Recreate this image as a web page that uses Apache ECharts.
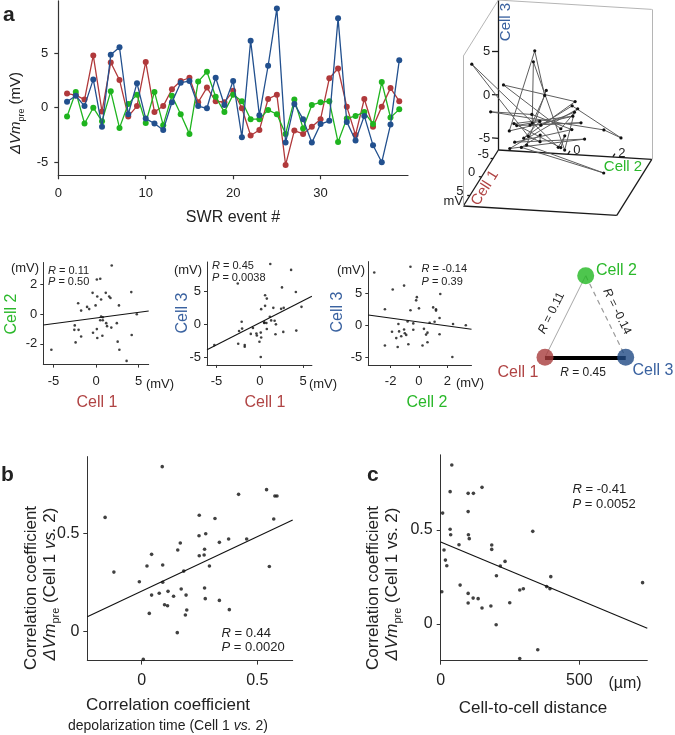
<!DOCTYPE html>
<html><head><meta charset="utf-8">
<script src="https://cdn.jsdelivr.net/npm/echarts/dist/echarts.min.js"></script>
<style>html,body{margin:0;padding:0;background:#fff}#c{width:675px;height:735px}</style>
</head><body><div id="c"></div>
<script>
// ---------------- data ----------------
const events=[1,2,3,4,5,6,7,8,9,10,11,12,13,14,15,16,17,18,19,20,21,22,23,24,25,26,27,28,29,30,31,32,33,34,35,36,37,38,39];
const cell1=[1.3,1.15,0.75,4.8,-0.35,4.15,2.55,-0.8,0.15,4.2,-0.4,0.15,1.7,2.45,2.75,0.5,1.85,0.6,0.5,1.55,-0.05,-2.55,-2.05,0.8,1.2,-5.25,-2.1,-2.4,-1.75,-1.05,2.7,3.6,0.1,-2.5,0.8,-1.75,0.1,1.8,0.6];
const cell2=[-0.8,1.45,-1.45,0,-1.25,1.5,-1.85,0.35,1.2,-1.4,1.45,-1.6,1.1,-0.6,-2.4,2.4,3.3,1.0,-0.4,1.2,0.6,-1.05,-1.05,-0.2,-0.6,-2.4,0.75,-1.9,0.25,0.5,0.6,-3.15,-1.0,-0.75,-0.4,-1.5,2.35,-0.9,-0.15];
const cell3=[0.55,1.1,0.15,2.6,-1.75,4.85,5.55,-0.6,2.25,-1.0,-1.45,-2.05,0.5,2.3,2.45,0.15,-0.05,2.75,0.25,2.45,-2.7,6.15,-0.7,3.85,9.1,-3.2,0.35,-1.05,-3.2,-1.5,-1.2,8.2,-1.3,-3.0,-0.75,-3.45,-5.0,-1.55,4.35];

const bX=[0.089,-0.158,-0.120,-0.010,0.023,0.043,0.043,0.033,0.007,0.076,0.091,0.091,0.099,0.112,0.114,0.138,0.156,0.167,0.171,0.154,0.182,0.189,0.195,0.192,0.249,0.248,0.249,0.270,0.272,0.277,0.272,0.275,0.293,0.317,0.336,0.336,0.376,0.379,0.419,0.454,0.540,0.552,0.571,0.576,0.585];
const bY=[0.839,0.581,0.303,0.254,0.334,0.393,0.186,0.093,-0.141,0.195,0.339,0.251,0.137,0.132,0.205,0.180,0.415,0.451,0.217,-0.005,0.308,0.085,0.110,0.186,0.592,0.488,0.386,0.390,0.419,0.498,0.222,0.168,0.334,0.575,0.454,0.159,0.471,0.112,0.698,0.471,0.722,0.331,0.573,0.690,0.690];

const cX=[40,7,4,12,17,22,34,34,36,66,70,99,99,100,103,99,99,118,117,135,149,149,184,184,181,201,200,215,232,249,285,298,285,332,350,382,397,394,728];
const cY=[0.846,0.590,0.172,0.394,0.340,0.310,0.704,0.504,0.475,0.422,0.207,0.695,0.598,0.475,0.454,0.163,0.112,0.695,0.138,0.135,0.727,0.085,0.420,0.397,0.096,0.257,-0.004,0.309,0.333,0.113,0.181,0.188,-0.183,0.493,-0.137,0.199,0.252,0.188,0.220];

// regression line endpoints
const fit12=[[-6.2,-0.72],[6.2,0.22]];
const fit13=[[-6.1,-3.9],[6.0,4.2]];
const fit23=[[-3.57,1.56],[3.7,-0.67]];
const fitB=[[-0.235,0.076],[0.653,0.568]];
const fitC=[[0,0.436],[745,-0.023]];

// correlation values
const rVals={r12:'0.11',p12:'0.50',r13:'0.45',p13:'0.0038',r23:'-0.14',p23:'0.39',rB:'0.44',pB:'0.0020',rC:'-0.41',pC:'0.0052'};

// tick labels
const ticksEvent=[0,10,20,30];
const ticksVm=[-5,0,5];
const ticks2=[-2,0,2];
const ticksCorr=[0,0.5];
const ticksDist=[0,500];
const ticks3dC3=[-5,0,5];
const ticks3dC2=[0,2];
const ticks3dC1=[-5,0,5];

// ---------------- style ----------------
const FONT="'Liberation Sans', Arial, Helvetica, sans-serif";
const RED='#b0393b', GREEN='#1fb41f', BLUE='#22508e';
const TRED='#b04444', TGREEN='#2ab82a', TBLUE='#3a62a0';
const AX='#333';

function axis(gi,min,max,ticks,o){
  o=o||{};
  return {type:'value',gridIndex:gi,min:min,max:max,
    axisLine:{show:true,onZero:false,lineStyle:{color:AX,width:o.lw||1}},
    axisTick:{show:true,customValues:ticks,length:o.tl||4,lineStyle:{color:AX,width:o.lw||1}},
    axisLabel:{show:true,customValues:ticks,fontSize:o.fs||13,color:'#222',margin:o.margin||8,fontFamily:FONT},
    splitLine:{show:false}};
}
function hidden(gi,min,max,inv){
  return {type:'value',gridIndex:gi,min:min,max:max,inverse:!!inv,show:false,splitLine:{show:false}};
}

const grids=[
  {left:58.3,top:0.9,width:349.7,height:174.4},     // 0 line chart
  {left:0,top:0,width:675,height:735},               // 1 overlay (3D + triangle)
  {left:43.3,top:262.5,width:105.4,height:102.1},    // 2 cell1 vs cell2
  {left:207,top:262,width:104.9,height:102.9},       // 3 cell1 vs cell3
  {left:368.3,top:261.6,width:103.2,height:103.4},   // 4 cell2 vs cell3
  {left:87.3,top:456.6,width:205.4,height:204},      // 5 panel b
  {left:440.7,top:454.8,width:206.6,height:205.9}    // 6 panel c
];

const xAxes=[
  axis(0,0,40,ticksEvent,{fs:13,margin:12,tl:4,lw:1.2}),
  hidden(1,0,675,false),
  axis(2,-6.2,6.2,ticksVm,{fs:13,margin:10,tl:3}),
  axis(3,-6.1,6.0,ticksVm,{fs:13,margin:10,tl:3}),
  axis(4,-3.57,3.7,ticks2,{fs:13,margin:10,tl:3}),
  axis(5,-0.235,0.653,ticksCorr,{fs:16,margin:12,tl:4}),
  axis(6,0,745,ticksDist,{fs:16,margin:12,tl:4})
];
const yAxes=[
  axis(0,-6.2,9.8,ticksVm,{fs:13,margin:10,tl:4,lw:1.2}),
  hidden(1,0,735,true),
  axis(2,-3.4,3.5,ticks2,{fs:13,margin:6,tl:3}),
  axis(3,-6.2,9.4,ticksVm,{fs:13,margin:6,tl:3}),
  axis(4,-6.25,9.9,ticksVm,{fs:13,margin:6,tl:3}),
  axis(5,-0.147,0.89,ticksCorr,{fs:16,margin:8,tl:4}),
  axis(6,-0.195,0.9,ticksCorr,{fs:16,margin:8,tl:4})
];

const series=[];
// ---- panel a: line chart
[[cell1,RED],[cell2,GREEN],[cell3,BLUE]].forEach(function(s,k){
  series.push({type:'line',xAxisIndex:0,yAxisIndex:0,data:events.map(function(e,i){return [e,s[0][i]];}),
    symbol:'circle',symbolSize:6,showSymbol:true,itemStyle:{color:s[1]},lineStyle:{color:s[1],width:1.3},z:3+k,animation:false});
});

// ---- 3D projection of (cell1, cell2, cell3)
const C1R=[-7.2,7.8], C2R=[-3.09,3.73], C3R=[-6.35,10.95];
function proj(a,b,c){
  const X=205-7*(a-C1R[0])+67.5*(b-C2R[0]);
  const Y=450+11.2*(a-C1R[0])+4.1*(b-C2R[0])-26*(c-C3R[0]);
  return [430+X/3, Y/3];
}
const P=proj;
const floorStyle={color:'#1a1a1a',width:1.3,opacity:1};
const boxStyle={color:'#b5b5b5',width:1,opacity:1};
const edges=[
  [P(C1R[0],C2R[0],C3R[0]),P(C1R[0],C2R[1],C3R[0]),floorStyle],
  [P(C1R[0],C2R[1],C3R[0]),P(C1R[1],C2R[1],C3R[0]),floorStyle],
  [P(C1R[1],C2R[1],C3R[0]),P(C1R[1],C2R[0],C3R[0]),floorStyle],
  [P(C1R[1],C2R[0],C3R[0]),P(C1R[0],C2R[0],C3R[0]),floorStyle],
  [P(C1R[0],C2R[0],C3R[0]),P(C1R[0],C2R[0],C3R[1]),floorStyle],
  [P(C1R[0],C2R[1],C3R[0]),P(C1R[0],C2R[1],C3R[1]),boxStyle],
  [P(C1R[1],C2R[0],C3R[0]),P(C1R[1],C2R[0],C3R[1]),boxStyle],
  [P(C1R[0],C2R[0],C3R[1]),P(C1R[0],C2R[1],C3R[1]),boxStyle],
  [P(C1R[0],C2R[0],C3R[1]),P(C1R[1],C2R[0],C3R[1]),boxStyle]
];
ticks3dC3.forEach(function(v){edges.push([P(C1R[0],C2R[0],v),P(C1R[0],C2R[0]-0.28,v),floorStyle]);});
ticks3dC2.forEach(function(v){edges.push([P(C1R[0],v,C3R[0]),P(C1R[0]-0.9,v,C3R[0]),floorStyle]);});
ticks3dC1.forEach(function(v){edges.push([P(v,C2R[0],C3R[0]),P(v,C2R[0]-0.12,C3R[0]),floorStyle]);});
series.push({type:'lines',coordinateSystem:'cartesian2d',xAxisIndex:1,yAxisIndex:1,silent:true,animation:false,
  lineStyle:{opacity:1},
  data:edges.map(function(e){return {coords:[e[0],e[1]],lineStyle:e[2]};}),z:2});
series.push({type:'line',xAxisIndex:1,yAxisIndex:1,data:cell1.map(function(v,i){return proj(v,cell2[i],cell3[i]);}),
  symbol:'circle',symbolSize:3.2,showSymbol:true,itemStyle:{color:'#111'},lineStyle:{color:'#5e5e5e',width:1},z:3,animation:false});

// ---- row 2 scatter panels
function scat(gi,xs,ys,size){
  series.push({type:'scatter',xAxisIndex:gi,yAxisIndex:gi,data:xs.map(function(v,i){return [v,ys[i]];}),
    symbolSize:size,itemStyle:{color:'#111'},animation:false,z:3});
}
function fitLine(gi,pts){
  series.push({type:'line',xAxisIndex:gi,yAxisIndex:gi,data:pts,symbol:'none',lineStyle:{color:'#111',width:1.1},animation:false,z:2});
}
scat(2,cell1,cell2,2.6); fitLine(2,fit12);
scat(3,cell1,cell3,2.6); fitLine(3,fit13);
scat(4,cell2,cell3,2.6); fitLine(4,fit23);
scat(5,bX,bY,3.6); fitLine(5,fitB);
scat(6,cX,cY,3.6); fitLine(6,fitC);

// ---- triangle diagram
const tri={c1:[545,357.3],c2:[585.7,275.7],c3:[625.7,357.3]};
series.push({type:'lines',coordinateSystem:'cartesian2d',xAxisIndex:1,yAxisIndex:1,silent:true,animation:false,z:2,
  lineStyle:{opacity:1},
  data:[
    {coords:[tri.c1,tri.c2],lineStyle:{color:'#a8a8a8',width:1,opacity:1}},
    {coords:[tri.c2,tri.c3],lineStyle:{color:'#9a9a9a',width:1.2,type:[5,4],opacity:1}},
    {coords:[tri.c1,tri.c3],lineStyle:{color:'#000',width:4,opacity:1}}
  ]});
series.push({type:'scatter',xAxisIndex:1,yAxisIndex:1,symbolSize:17,animation:false,z:5,
  data:[{value:tri.c1,itemStyle:{color:'#a83c3c'}},{value:tri.c2,itemStyle:{color:'#22b822'}},{value:tri.c3,itemStyle:{color:'#1f4a85'}}]});

// ---------------- text ----------------
function rich(fs){
  const sub=Math.round(fs*0.62);
  return {
    i:{fontStyle:'italic',fontSize:fs,fontFamily:FONT,fill:'#222',color:'#222',lineHeight:fs+6,verticalAlign:'middle'},
    n:{fontSize:fs,fontFamily:FONT,fill:'#222',color:'#222',lineHeight:fs+6,verticalAlign:'middle'},
    s:{fontSize:sub,fontFamily:FONT,fill:'#222',color:'#222',lineHeight:sub,verticalAlign:'bottom'}
  };
}
function T(x,y,text,o){
  o=o||{};
  const fs=o.fs||13;
  return {type:'text',x:x,y:y,rotation:o.rot||0,z:100,silent:true,
    style:{text:text,fill:o.color||'#222',fontSize:fs,fontFamily:FONT,
      fontStyle:o.italic?'italic':'normal',fontWeight:o.bold?'bold':'normal',
      align:o.align||'center',verticalAlign:'middle',rich:rich(fs)}};
}
const R90=Math.PI/2;
const g=[];
// panel letters
g.push(T(3,15,'a',{fs:21,bold:true,align:'left'}));
g.push(T(1,475,'b',{fs:21,bold:true,align:'left'}));
g.push(T(367,475,'c',{fs:21,bold:true,align:'left'}));
// panel a titles
g.push(T(16,113,'{i|ΔVm}{s|pre}{n| (mV)}',{fs:15,rot:R90}));
g.push(T(233,218,'SWR event #',{fs:16}));
// 3D labels
ticks3dC3.forEach(function(v){const p=P(C1R[0],C2R[0],v);g.push(T(p[0]-8,p[1],String(v),{fs:13,align:'right'}));});
ticks3dC2.forEach(function(v){const p=P(C1R[0],v,C3R[0]);g.push(T(p[0]+9,p[1]-4,String(v),{fs:13}));});
ticks3dC1.forEach(function(v){const p=P(v,C2R[0],C3R[0]);g.push(T(p[0]-10,p[1]-4,String(v),{fs:13}));});
(function(){const p=P(C1R[1],C2R[0],C3R[0]);g.push(T(p[0]-10,p[1]-5,'mV',{fs:13}));})();
g.push(T(506,22,'Cell 3',{fs:15,rot:R90,color:TBLUE}));
g.push(T(623,167,'Cell 2',{fs:15,color:TGREEN}));
g.push(T(485,188,'Cell 1',{fs:15,rot:1.01,color:TRED}));
// row 2 panel 1
g.push(T(25,268,'(mV)',{fs:13}));
g.push(T(48,271,'{i|R}{n| = '+rVals.r12+'}',{fs:11,align:'left'}));
g.push(T(48,281.5,'{i|P}{n| = '+rVals.p12+'}',{fs:11,align:'left'}));
g.push(T(160,384,'(mV)',{fs:13}));
g.push(T(97,403,'Cell 1',{fs:16,color:TRED}));
g.push(T(12,314,'Cell 2',{fs:16,rot:R90,color:TGREEN}));
// panel 2
g.push(T(188,270,'(mV)',{fs:13}));
g.push(T(212,265.5,'{i|R}{n| = '+rVals.r13+'}',{fs:11,align:'left'}));
g.push(T(212,277.5,'{i|P}{n| = '+rVals.p13+'}',{fs:11,align:'left'}));
g.push(T(323,384,'(mV)',{fs:13}));
g.push(T(265,403,'Cell 1',{fs:16,color:TRED}));
g.push(T(183,313,'Cell 3',{fs:16,rot:R90,color:TBLUE}));
// panel 3
g.push(T(351,270,'(mV)',{fs:13}));
g.push(T(421.5,269,'{i|R}{n| = '+rVals.r23+'}',{fs:11,align:'left'}));
g.push(T(421.5,281.5,'{i|P}{n| = '+rVals.p23+'}',{fs:11,align:'left'}));
g.push(T(470,383,'(mV)',{fs:13}));
g.push(T(427,403,'Cell 2',{fs:16,color:TGREEN}));
g.push(T(338,312,'Cell 3',{fs:16,rot:R90,color:TBLUE}));
// triangle labels
g.push(T(596,271,'Cell 2',{fs:16,align:'left',color:TGREEN}));
g.push(T(518,373,'Cell 1',{fs:16,color:TRED}));
g.push(T(653,371,'Cell 3',{fs:16,color:TBLUE}));
g.push(T(551.5,313,'{i|R}{n| = '+rVals.r12+'}',{fs:12,rot:1.11}));
g.push(T(617,311.5,'{i|R}{n| = '+rVals.r23+'}',{fs:12,rot:-1.11}));
g.push(T(583,373,'{i|R}{n| = '+rVals.r13+'}',{fs:12}));
// panel b
g.push(T(221.5,633.5,'{i|R}{n| = '+rVals.rB+'}',{fs:13,align:'left'}));
g.push(T(221.5,647.5,'{i|P}{n| = '+rVals.pB+'}',{fs:13,align:'left'}));
g.push(T(31,588,'Correlation coefficient',{fs:17,rot:R90}));
g.push(T(50,584,'{i|ΔVm}{s|pre}{n| (Cell 1 }{i|vs.}{n| 2)}',{fs:17,rot:R90}));
g.push(T(168,705,'Correlation coefficient',{fs:17}));
g.push(T(168,726,'{n|depolarization time (Cell 1 }{i|vs.}{n| 2)}',{fs:14}));
// panel c
g.push(T(572.5,489.5,'{i|R}{n| = '+rVals.rC+'}',{fs:13,align:'left'}));
g.push(T(572.5,504,'{i|P}{n| = '+rVals.pC+'}',{fs:13,align:'left'}));
g.push(T(625,684,'(µm)',{fs:16}));
g.push(T(533,708,'Cell-to-cell distance',{fs:17}));
g.push(T(373,588,'Correlation coefficient',{fs:17,rot:R90}));
g.push(T(392,584,'{i|ΔVm}{s|pre}{n| (Cell 1 vs. 2)}',{fs:17,rot:R90}));

const chart=echarts.init(document.getElementById('c'),null,{renderer:'canvas'});
chart.setOption({animation:false,backgroundColor:'#fff',textStyle:{fontFamily:FONT},
  grid:grids,xAxis:xAxes,yAxis:yAxes,series:series,graphic:{elements:g}});
</script></body></html>
